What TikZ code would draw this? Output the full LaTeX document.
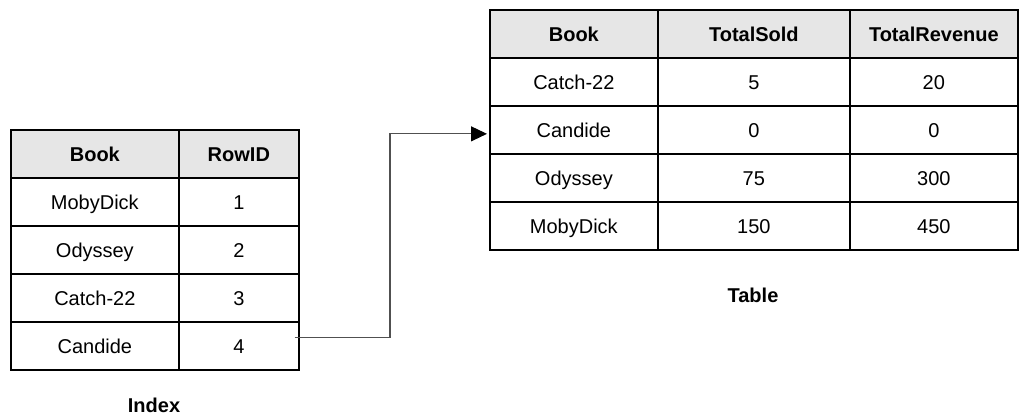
\documentclass[tikz,border=0pt]{standalone}
\usepackage{fontspec}
\setmainfont{Liberation Sans}
\usetikzlibrary{arrows.meta,calc}
\definecolor{hdrgray}{RGB}{230,230,230}
\definecolor{linegray}{RGB}{80,80,80}
\tikzset{
  cell/.style={draw=black, line width=1.7pt, anchor=north west, inner sep=0pt,
    minimum height=48pt, text height=14.3pt, text depth=0pt,
    font=\fontsize{20}{24}\selectfont},
  hdr/.style={cell, fill=hdrgray, font=\fontsize{20}{24}\selectfont\bfseries},
  w168/.style={minimum width=168pt},
  w120/.style={minimum width=120pt},
  w192/.style={minimum width=192pt},
  caption/.style={font=\fontsize{20}{24}\selectfont\bfseries, inner sep=0pt, text height=14.3pt, text depth=0pt},
  connector/.style={draw=linegray, line width=1.1pt},
  tipstyle/.style={-{Triangle[length=16pt,width=15pt,color=black]}}
}
\begin{document}
\begin{tikzpicture}[x=1pt,y=-1pt]
\useasboundingbox (0,0) rectangle (1029,415);
% Index table
\node[hdr,w168] (lh1) at (10,129) {Book};
\node[hdr,w120] (lh2) at (178,129) {RowID};
\node[cell,w168] (l11) at (10,177) {MobyDick};
\node[cell,w120] (l12) at (178,177) {1};
\node[cell,w168] (l21) at (10,225) {Odyssey};
\node[cell,w120] (l22) at (178,225) {2};
\node[cell,w168] (l31) at (10,273) {Catch-22};
\node[cell,w120] (l32) at (178,273) {3};
\node[cell,w168] (l41) at (10,321) {Candide};
\node[cell,w120] (l42) at (178,321) {4};
\node[caption] (idx) at (154,405) {Index};
% Table
\node[hdr,w168] (rh1) at (489,9) {Book};
\node[hdr,w192] (rh2) at (657,9) {TotalSold};
\node[hdr,w168] (rh3) at (849,9) {TotalRevenue};
\node[cell,w168] (r11) at (489,57) {Catch-22};
\node[cell,w192] (r12) at (657,57) {5};
\node[cell,w168] (r13) at (849,57) {20};
\node[cell,w168] (r21) at (489,105) {Candide};
\node[cell,w192] (r22) at (657,105) {0};
\node[cell,w168] (r23) at (849,105) {0};
\node[cell,w168] (r31) at (489,153) {Odyssey};
\node[cell,w192] (r32) at (657,153) {75};
\node[cell,w168] (r33) at (849,153) {300};
\node[cell,w168] (r41) at (489,201) {MobyDick};
\node[cell,w192] (r42) at (657,201) {150};
\node[cell,w168] (r43) at (849,201) {450};
\node[caption] (tbl) at (753,295) {Table};
% connector
\coordinate (src) at ($(l42.east)+(-5,-8)$);
\coordinate (dst) at ($(r21.west)+(-2,4)$);
\coordinate (mid) at (390,235);
\draw[connector,tipstyle] (src) -| (mid) |- (dst);
\end{tikzpicture}
\end{document}
